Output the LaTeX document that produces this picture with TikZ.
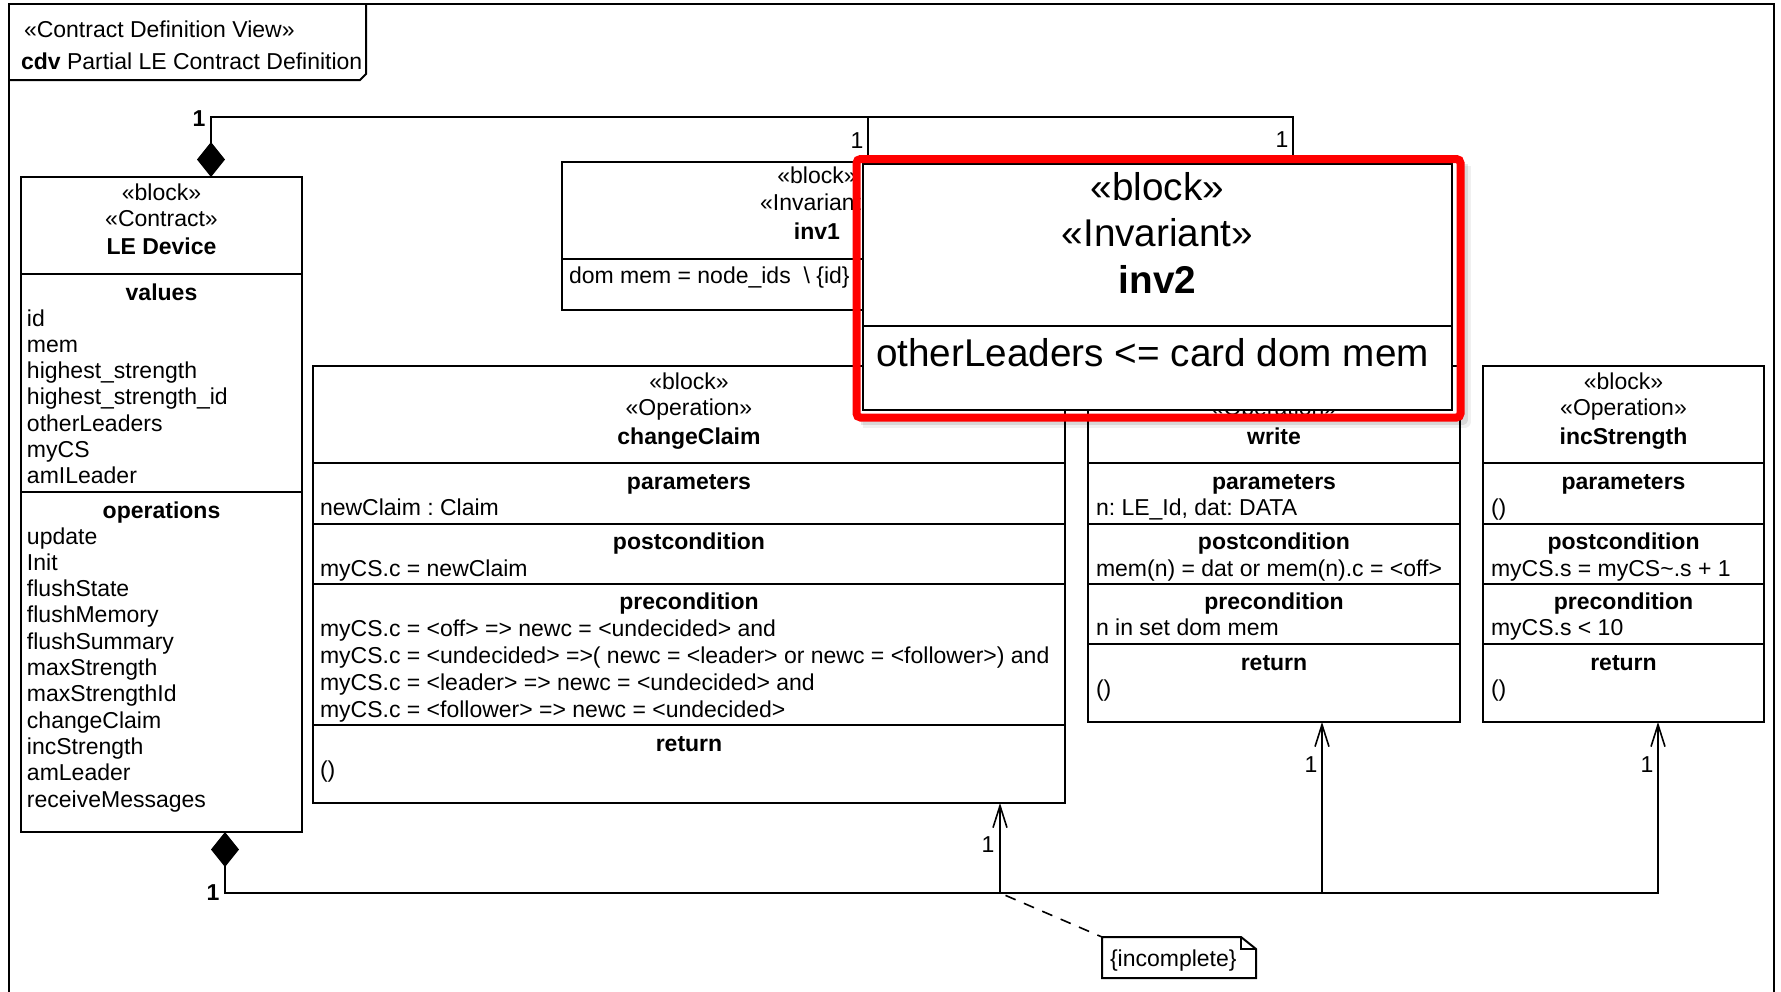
\documentclass[tikz,border=0pt]{standalone}
\usepackage{fontspec}
\setmainfont{Liberation Sans}
\usetikzlibrary{arrows.meta,calc}
\frenchspacing

% one line of text per node, starting at a baseline, with a fixed pitch
\newcommand\txtlines[5]{%
  \foreach \t [count=\i from 0] in {#5}{%
    \node[txt, anchor=base west] (#1\i) at (#2,{#3+#4*\i}) {\t};}}

\begin{document}
\frenchspacing
\begin{tikzpicture}[x=1pt,y=-1pt,
  every node/.style={inner sep=0pt, outer sep=0pt},
  txt/.style={font=\fontsize{23pt}{26.3pt}\selectfont\frenchspacing},
  hd/.style={font=\fontsize{23pt}{26.3pt}\selectfont\bfseries, anchor=base},
  ctr/.style={txt, anchor=base},
  bigtxt/.style={font=\fontsize{38.7pt}{46pt}\selectfont},
  box/.style={draw, line width=2pt, fill=white, anchor=north west},
  sepline/.style={line width=2pt},
  conn/.style={line width=1.6pt},
  diam/.tip={Diamond[length=35pt,width=28pt]},
  barb/.tip={Straight Barb[length=22pt,width=14pt]},
  mult/.style={txt, anchor=base},
  multb/.style={hd},
]
\useasboundingbox (0,0) rectangle (1781,991);

% diagram frame and its name tab
\draw[line width=2pt] (9,995) -- (9,4) -- (1774,4) -- (1774,995);
\draw[line width=2pt] (9,80) -- (360,80) -- (366,74) -- (366,4);
\node[txt, anchor=base west] (kind) at (24,37.5) {«Contract Definition View»};
\node[txt, anchor=base west] (title) at (21,69) {\textbf{cdv} Partial LE Contract Definition};

% junction points of the two compositions
\coordinate (tA) at (211,117);
\coordinate (tC) at (868,117);
\coordinate (tB) at (1293,117);
\coordinate (bA) at (225,893);
\coordinate (bB) at (1000,893);
\coordinate (bC) at (1322,893);
\coordinate (bD) at (1658,893);

% ---------- blocks ----------
\node[box, minimum width=281pt, minimum height=655pt] (le) at (21,177) {};
\node[box, minimum width=510pt, minimum height=148pt] (inv1) at (562,162) {};
\node[box, minimum width=752pt, minimum height=437pt] (cc) at (313,366) {};
\node[box, minimum width=372pt, minimum height=356pt] (wr) at (1088,366) {};
\node[box, minimum width=281pt, minimum height=356pt] (is) at (1483,366) {};

% ---------- connectors ----------
\draw[conn, diam-] (le.north -| tA) -- (tA) -- (tB) -- (1293,164);
\draw[conn] (tC) -- (inv1.north -| tC);
\draw[conn, diam-barb] (le.south -| bA) -- (bA) -- (bD) -- (is.south -| bD);
\draw[conn, -barb] (bB) -- (cc.south -| bB);
\draw[conn, -barb] (bC) -- (wr.south -| bC);

% multiplicities
\node[multb] (m1) at (199,126) {1};
\node[mult] (m2) at (857,148) {1};
\node[mult] (m3) at (1282,147) {1};
\node[multb] (m4) at (213,900) {1};
\node[mult] (m5) at (988,852) {1};
\node[mult] (m6) at (1311,772) {1};
\node[mult] (m7) at (1647,772) {1};

% ---------- LE Device ----------
\draw[sepline] (21,274) -- (302,274);
\draw[sepline] (21,492) -- (302,492);
\node[ctr] (leh1) at (161.5,200) {«block»};
\node[ctr] (leh2) at (161.5,226) {«Contract»};
\node[hd] (leh3) at (161.5,254) {LE Device};
\node[hd] (lev) at (161.5,300) {values};
\txtlines{leval}{27}{326}{26.3}{id, mem, highest\_strength, highest\_strength\_id, otherLeaders, myCS, amILeader}
\node[hd] (leo) at (161.5,518) {operations};
\txtlines{leop}{27}{544}{26.3}{update, Init, flushState, flushMemory, flushSummary, maxStrength, maxStrengthId, changeClaim, incStrength, amLeader, receiveMessages}

% ---------- inv1 ----------
\draw[sepline] (562,259) -- (1072,259);
\node[ctr] (i1h1) at (817,183) {«block»};
\node[ctr] (i1h2) at (817,210) {«Invariant»};
\node[hd] (i1h3) at (817,239) {inv1};
\node[txt, anchor=base west] (i1b) at (569,283) {dom mem = node\_ids\ \ \textbackslash\ \{id\}};

% ---------- changeClaim ----------
\foreach \y in {463,524,584,725} {\draw[sepline] (313,\y) -- (1065,\y);}
\node[ctr] (cch1) at (689,389) {«block»};
\node[ctr] (cch2) at (689,415) {«Operation»};
\node[hd] (cch3) at (689,444) {changeClaim};
\node[hd] (ccp) at (689,489) {parameters};
\node[txt, anchor=base west] (ccp1) at (320,515) {newClaim : Claim};
\node[hd] (ccq) at (689,549) {postcondition};
\node[txt, anchor=base west] (ccq1) at (320,576) {myCS.c = newClaim};
\node[hd] (ccr) at (689,609) {precondition};
\txtlines{ccr}{320}{636}{27}{{myCS.c = <off> => newc = <undecided> and},
  {myCS.c = <undecided> =>( newc = <leader> or newc = <follower>) and},
  {myCS.c = <leader> => newc = <undecided> and},
  {myCS.c = <follower> => newc = <undecided>}}
\node[hd] (ccs) at (689,751) {return};
\node[txt, anchor=base west] (ccs1) at (320,777) {()};

% ---------- write ----------
\foreach \y in {463,524,584,644} {\draw[sepline] (1088,\y) -- (1460,\y);}
\node[ctr] (wrh1) at (1274,389) {«block»};
\node[ctr] (wrh2) at (1274,415) {«Operation»};
\node[hd] (wrh3) at (1274,444) {write};
\node[hd] (wrp) at (1274,489) {parameters};
\node[txt, anchor=base west] (wrp1) at (1096,515) {n: LE\_Id, dat: DATA};
\node[hd] (wrq) at (1274,549) {postcondition};
\node[txt, anchor=base west] (wrq1) at (1096,576) {mem(n) = dat or mem(n).c = <off>};
\node[hd] (wrr) at (1274,609) {precondition};
\node[txt, anchor=base west] (wrr1) at (1096,635) {n in set dom mem};
\node[hd] (wrs) at (1274,670) {return};
\node[txt, anchor=base west] (wrs1) at (1096,696) {()};

% ---------- incStrength ----------
\foreach \y in {463,524,584,644} {\draw[sepline] (1483,\y) -- (1764,\y);}
\node[ctr] (ish1) at (1623.5,389) {«block»};
\node[ctr] (ish2) at (1623.5,415) {«Operation»};
\node[hd] (ish3) at (1623.5,444) {incStrength};
\node[hd] (isp) at (1623.5,489) {parameters};
\node[txt, anchor=base west] (isp1) at (1491,515) {()};
\node[hd] (isq) at (1623.5,549) {postcondition};
\node[txt, anchor=base west] (isq1) at (1491,576) {myCS.s = myCS\textasciitilde.s + 1};
\node[hd] (isr) at (1623.5,609) {precondition};
\node[txt, anchor=base west] (isr1) at (1491,635) {myCS.s < 10};
\node[hd] (iss) at (1623.5,670) {return};
\node[txt, anchor=base west] (iss1) at (1491,696) {()};

% ---------- note ----------
\node[anchor=north west, minimum width=154pt, minimum height=41pt] (note) at (1102,937) {};
\draw[line width=2pt, fill=white] (note.north west) -- (1241,937) -- (1256,949)
  -- (note.south east) -- (note.south west) -- cycle;
\draw[line width=1.6pt] (1241,937) -- (1241,949) -- (1256,949);
\node[txt, anchor=base west] (notetext) at (1110,966) {\{incomplete\}};
\draw[conn, dash pattern=on 11pt off 9pt, dash phase=-6pt] (bB) -- (note.north west);

% ---------- inv2, enlarged and outlined ----------
\node[draw, line width=2.8pt, fill=white, anchor=north west,
      minimum width=589pt, minimum height=246pt] (inv2) at (863,164) {};
\draw[line width=2.8pt] (863,326) -- (1452,326);
\node[bigtxt, anchor=base] (i2h1) at (1157.5,200) {«block»};
\node[bigtxt, anchor=base] (i2h2) at (1157.5,246) {«Invariant»};
\node[bigtxt, anchor=base, font=\fontsize{38.7pt}{46pt}\selectfont\bfseries] (i2h3) at (1157.5,293) {inv2};
\node[bigtxt, anchor=base west] (i2b) at (876,366) {otherLeaders <= card dom mem};

% soft shadow along the lower and right sides of the outline
\draw[line width=12pt, black, opacity=0.06, line join=round] (1464.5,166) -- (1464.5,421.5) -- (863,421.5);
\draw[line width=9pt, black, opacity=0.10, line join=round] (1463,164) -- (1463,420) -- (861,420);
\draw[line width=8pt, red, rounded corners=4pt] (856.5,159) rectangle (1460.5,417.5);
\end{tikzpicture}
\end{document}
